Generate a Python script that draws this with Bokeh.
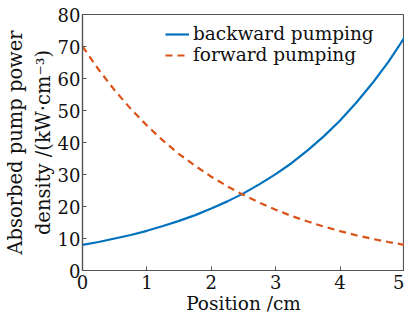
from bokeh.plotting import figure
from bokeh.embed import file_html
from bokeh.resources import INLINE
from bokeh.models import FixedTicker, Range1d

x = [0, 0.25, 0.5, 0.75, 1, 1.25, 1.5, 1.75, 2, 2.25, 2.5, 2.75, 3, 3.25, 3.5, 3.75, 4, 4.25, 4.5, 4.75, 5]
backward = [8.0, 8.9, 10.0, 11.1, 12.4, 13.9, 15.5, 17.3, 19.4, 21.6, 24.1, 27.0, 30.1, 33.6, 37.6, 42.0, 46.9, 52.4, 58.5, 65.2, 72.8]
forward = [70.0, 62.8, 56.3, 50.5, 45.3, 40.6, 36.4, 32.7, 29.3, 26.3, 23.6, 21.2, 19.0, 17.0, 15.3, 13.7, 12.3, 11.0, 9.9, 8.9, 8.0]
x_ticks = [0, 1, 2, 3, 4, 5]
y_ticks = [0, 10, 20, 30, 40, 50, 60, 70, 80]

FONT = "DejaVu Serif"

p = figure(width=395, height=309, output_backend="svg", toolbar_location=None,
           x_range=Range1d(0, 5), y_range=Range1d(0, 80),
           frame_width=322, frame_height=256,
           min_border_left=0, min_border_right=0, min_border_top=14, min_border_bottom=10)

p.line(x, backward, line_color="#0072BD", line_width=2.2, legend_label="backward pumping")
p.line(x, forward, line_color="#D95319", line_width=2.2, line_dash="7 5", legend_label="forward pumping")

p.xgrid.visible = False
p.ygrid.visible = False
p.outline_line_color = "#555555"
p.outline_line_width = 1.2

for ax in (p.xaxis[0], p.yaxis[0]):
    ax.axis_line_color = "#555555"
    ax.axis_line_width = 1.2
    ax.major_tick_in = 4
    ax.major_tick_out = 0
    ax.minor_tick_line_color = None
    ax.major_tick_line_color = "#555555"
    ax.major_label_text_font = FONT
    ax.major_label_text_font_size = "18px"
    ax.major_label_text_color = "#111111"
    ax.axis_label_text_font = FONT
    ax.axis_label_text_font_style = "normal"
    ax.axis_label_text_color = "#111111"

p.xaxis.axis_label_text_font_size = "18.5px"
p.yaxis.axis_label_text_font_size = "19.5px"
p.xaxis.ticker = FixedTicker(ticks=x_ticks)
p.yaxis.ticker = FixedTicker(ticks=y_ticks)
p.xaxis.axis_label = "Position /cm"
p.yaxis.axis_label = "Absorbed pump power\ndensity /(kW\u00b7cm\u207b\u00b3)"
p.xaxis.major_label_standoff = 4
p.yaxis.major_label_standoff = 2
p.xaxis.axis_label_standoff = 1
p.yaxis.axis_label_standoff = 0

leg = p.legend[0]
leg.location = (83, 205)
leg.padding = 0
leg.spacing = 0
leg.margin = 0
leg.glyph_width = 24
leg.glyph_height = 20
leg.label_height = 20
leg.label_standoff = 4
leg.label_text_font = FONT
leg.label_text_font_size = "18.5px"
leg.label_text_color = "#111111"
leg.border_line_color = None
leg.background_fill_alpha = 0

open("out.html", "w").write(file_html(p, INLINE))
